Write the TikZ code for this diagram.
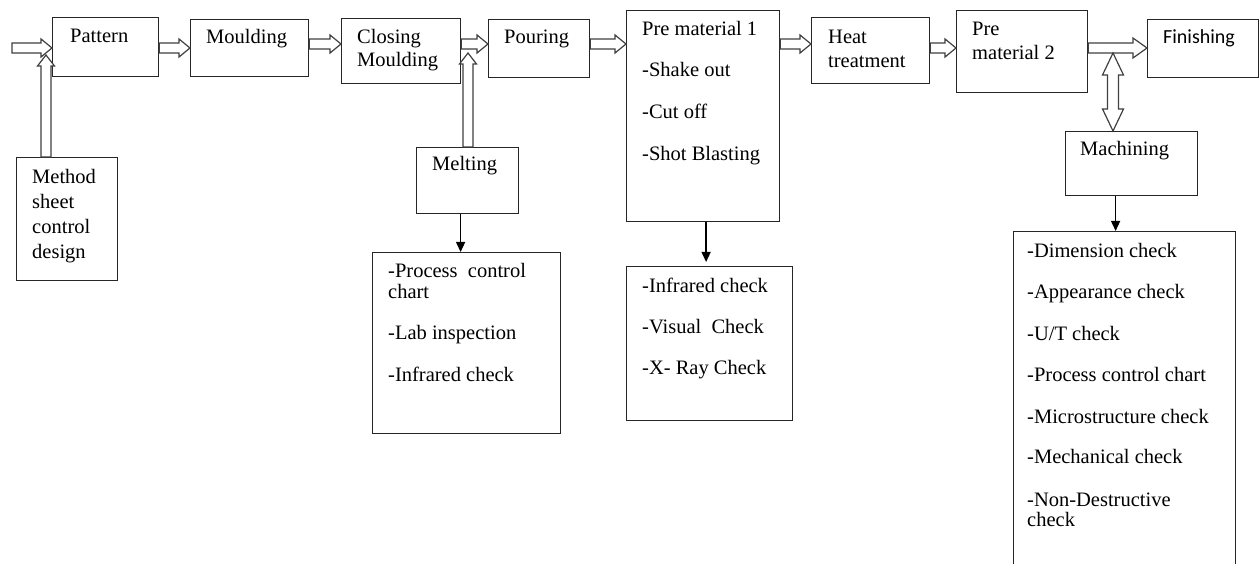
\documentclass[tikz,border=0pt]{standalone}
\usepackage{fontspec}
\setmainfont{Liberation Serif}
\newfontfamily\calibrifont{Carlito}
\usetikzlibrary{calc,arrows.meta}
\newcommand\firststrut{\rule{0pt}{15pt}}
\newcommand\hollowH[3]{\draw[blockarr] let \p1=#1, \p2=#2, \p3=(0,#3) in
  (\x1,\y3+5pt) -- (\x2-11pt,\y3+5pt) -- (\x2-11pt,\y3+9pt) -- (\x2,\y3)
  -- (\x2-11pt,\y3-9pt) -- (\x2-11pt,\y3-5pt) -- (\x1,\y3-5pt) -- cycle;}
\newcommand\hollowV[3]{\draw[blockarr] let \p1=#1, \p2=#2, \p3=(#3,0) in
  (\x3-5pt,\y1) -- (\x3-5pt,\y2-11pt) -- (\x3-8.5pt,\y2-11pt) -- (\x3,\y2)
  -- (\x3+8.5pt,\y2-11pt) -- (\x3+5pt,\y2-11pt) -- (\x3+5pt,\y1) -- cycle;}
\begin{document}
\begin{tikzpicture}[x=1pt,y=-1pt,
  box/.style={draw=black!85, line width=1.2pt, inner sep=0pt, anchor=north west},
  txt/.style={anchor=north west, inner sep=0pt, align=left},
  blockarr/.style={draw=black!75, fill=white, line width=1.2pt, line join=miter},
  thinarr/.style={draw=black, line width=1.3pt, -{Triangle[length=10pt,width=9pt]}}]
\fill[white] (0,0) rectangle (1259,564);
\useasboundingbox (0,0) rectangle (1259,564);

% boxes
\node[box, minimum width=106pt, minimum height=59pt]  (pattern)   at (52,17)  {};
\node[box, minimum width=118pt, minimum height=57pt]  (moulding)  at (190,19) {};
\node[box, minimum width=119pt, minimum height=65pt]  (closing)   at (341,18) {};
\node[box, minimum width=101pt, minimum height=58pt]  (pouring)   at (488,19) {};
\node[box, minimum width=153pt, minimum height=211pt] (pmone)     at (626,10) {};
\node[box, minimum width=118pt, minimum height=66pt]  (heat)      at (811,17) {};
\node[box, minimum width=131pt, minimum height=82pt]  (pmtwo)     at (956,10) {};
\node[box, minimum width=111pt, minimum height=58pt]  (finishing) at (1147,19) {};
\node[box, minimum width=132pt, minimum height=64pt]  (machining) at (1065,131) {};
\node[box, minimum width=222pt, minimum height=345pt] (machchk)   at (1013,231) {};
\node[box, minimum width=101pt, minimum height=123pt] (method)    at (16,157) {};
\node[box, minimum width=102pt, minimum height=66pt]  (melting)   at (416,147) {};
\node[box, minimum width=188pt, minimum height=181pt] (meltchk)   at (372,252) {};
\node[box, minimum width=166pt, minimum height=154pt] (pmonechk)  at (626,266) {};

% texts
\node[txt, font=\fontsize{20.5}{24}\selectfont] (tpattern) at (70,27) {\firststrut Pattern};
\node[txt, font=\fontsize{20.5}{24}\selectfont] (tmoulding) at (206,28) {\firststrut Moulding};
\node[txt, font=\fontsize{20.5}{23.5}\selectfont] (tclosing) at (357,28) {\firststrut Closing\\Moulding};
\node[txt, font=\fontsize{20.5}{24}\selectfont] (tpouring) at (504,28) {\firststrut Pouring};
\node[txt, font=\fontsize{20.5}{41.7}\selectfont] (tpmone) at (642,20) {\firststrut Pre material 1\\-Shake out\\-Cut off\\-Shot Blasting};
\node[txt, font=\fontsize{20.5}{24}\selectfont] (theat) at (828,28) {\firststrut Heat\\treatment};
\node[txt, font=\fontsize{20.5}{24.3}\selectfont] (tpmtwo) at (972,20) {\firststrut Pre\\material 2};
\node[txt, font=\calibrifont\fontsize{20}{24}\selectfont] (tfinishing) at (1163,28) {\firststrut Finishing};
\node[txt, font=\fontsize{20.5}{24}\selectfont] (tmachining) at (1080,140) {\firststrut Machining};
\node[txt, font=\fontsize{20.5}{25}\selectfont] (tmethod) at (32,168) {\firststrut Method\\sheet\\control\\design};
\node[txt, font=\fontsize{20.5}{24}\selectfont] (tmelting) at (432,155) {\firststrut Melting};
\node[txt, font=\fontsize{20.5}{20.8}\selectfont] (tmeltchk) at (388,262)
  {\firststrut -Process\ \ control\\chart\\[20.8pt]-Lab inspection\\[20.8pt]-Infrared check};
\node[txt, font=\fontsize{20.5}{41}\selectfont] (tpmonechk) at (642,277)
  {\firststrut -Infrared check\\-Visual\ \ Check\\-X- Ray Check};
\node[txt, font=\fontsize{20.5}{20.7}\selectfont] (tmachchk) at (1027,242)
  {\firststrut -Dimension check\\[20.7pt]-Appearance check\\[20.7pt]-U/T check\\[20.7pt]-Process control chart\\[21.5pt]-Microstructure check\\[19.5pt]-Mechanical check\\[21.5pt]-Non-Destructive\\check};

% free ends
\coordinate (start) at (12,48);
\coordinate (mtip) at (46,55);
\coordinate (meltip) at (468,53);
\coordinate (dtop) at (1113,53);

% hollow block arrows
\hollowH{(start)}{(pattern.west)}{48}
\hollowH{(pattern.east)}{(moulding.west)}{48}
\hollowH{(moulding.east)}{(closing.west)}{44}
\hollowH{(closing.east)}{(pouring.west)}{44}
\hollowH{(pouring.east)}{(pmone.west)}{44}
\hollowH{(pmone.east)}{(heat.west)}{44}
\hollowH{(heat.east)}{(pmtwo.west)}{48}
\draw[blockarr] let \p1=(pmtwo.east), \p2=(finishing.west), \p3=(0,48) in
  (\x1,\y3+5pt) -- (\x2-14pt,\y3+5pt) -- (\x2-14pt,\y3+10pt) -- (\x2,\y3)
  -- (\x2-14pt,\y3-10pt) -- (\x2-14pt,\y3-5pt) -- (\x1,\y3-5pt) -- cycle;
\hollowV{(method.north)}{(mtip)}{46}
\hollowV{(melting.north)}{(meltip)}{468}
\draw[blockarr] let \p1=(dtop), \p2=(machining.north), \p3=(1113,0) in
  (\x3,\y1) -- (\x3+10.5pt,\y1-22pt) -- (\x3+5.5pt,\y1-22pt) -- (\x3+5.5pt,\y2+22pt)
  -- (\x3+10.5pt,\y2+22pt) -- (\x3,\y2) -- (\x3-10.5pt,\y2+22pt) -- (\x3-5.5pt,\y2+22pt)
  -- (\x3-5.5pt,\y1-22pt) -- (\x3-10.5pt,\y1-22pt) -- cycle;

% thin arrows
\coordinate (a1) at ([xshift=-7pt]melting.south);
\draw[thinarr] (a1) -- (a1 |- meltchk.north);
\coordinate (a2) at ([xshift=3pt]pmone.south);
\draw[thinarr] (a2) -- ([yshift=4pt]a2 |- pmonechk.north);
\coordinate (a3) at ([xshift=-16pt]machining.south);
\draw[thinarr] (a3) -- (a3 |- machchk.north);
\end{tikzpicture}
\end{document}
